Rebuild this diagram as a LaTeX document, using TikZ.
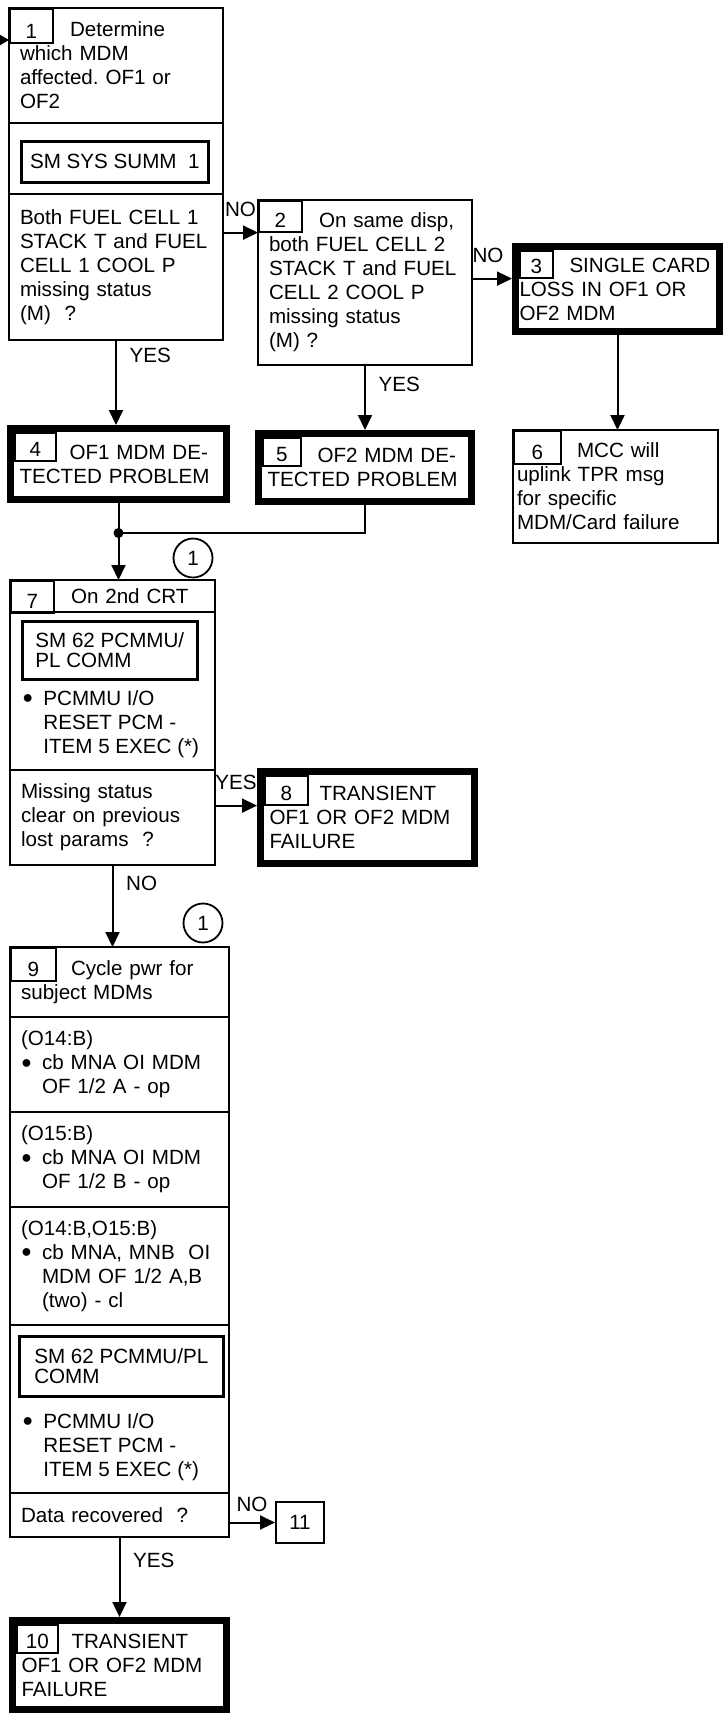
\documentclass[tikz,border=0pt]{standalone}
\usepackage{fontspec}
\setmainfont{Liberation Sans}
\usetikzlibrary{arrows.meta}

\newcommand{\fcfont}{\fontsize{10.3pt}{12pt}\selectfont\frenchspacing}
\newcommand{\dispfont}{\fontsize{10.3pt}{10pt}\selectfont}
\newcommand{\numgap}[1][25pt]{\hspace*{#1}}
\newcommand{\bulit}{\makebox[10.5pt][l]{\raisebox{0.8pt}{\fontsize{9pt}{9pt}\selectfont ●}}}
\newcommand{\bulind}{\hspace*{10.5pt}}

\begin{document}
\begin{tikzpicture}[
  x=0.5pt, y=-0.5pt,
  >={Triangle[length=7.5pt,width=7pt]},
  font=\fcfont,
  sect/.style={draw, line width=1pt, anchor=north west, align=left,
    inner xsep=5.5pt, inner ysep=0pt, outer sep=0pt, text width=#1},
  endbox/.style={sect=#1, line width=3.5pt, outer sep=1.75pt, inner xsep=4.5pt},
  numtab/.style={draw, line width=0.8pt, anchor=north west, inner sep=0pt,
    minimum width=21.5pt, text height=#1, text depth=2pt},
  numtab/.default=14pt,
  disp/.style={draw, line width=1.3pt, anchor=north west, align=left,
    inner sep=0pt, font=\dispfont, minimum width=#1},
  jump/.style={draw, line width=1pt, anchor=north west, minimum width=24pt,
    minimum height=20.5pt, inner sep=0pt},
  conn/.style={->, line width=1pt},
  refmark/.style={circle, draw, line width=0.9pt, minimum size=19.5pt, inner sep=0pt}
]
  \useasboundingbox (0,0) rectangle (725,1715);
  \coordinate (entry) at (0,40);
  \node[sect=96pt, minimum height=57.5pt] (b1a) at (9,8)
    {\numgap Determine\\which MDM\\affected. OF1 or\\OF2};
  \node[numtab=15pt] (t1) at (b1a.north west) {1};
  \node[sect=96pt, minimum height=35.5pt] (b1b) at (b1a.south west) {};
  \node[disp=93.5pt, minimum height=20.5pt] (d1) at (20,140) {SM SYS SUMM~~1};
  \node[sect=96pt, minimum height=73pt] (b1c) at (b1b.south west)
    {Both FUEL CELL 1\\STACK T and FUEL\\CELL 1 COOL P\\missing status\\(M)~~?};

  \node[sect=96pt, minimum height=82.5pt] (b2) at (258,200)
    {\numgap On same disp,\\both FUEL CELL 2\\STACK T and FUEL\\CELL 2 COOL P\\missing status\\(M) ?};
  \node[numtab=13.5pt] (t2) at (b2.north west) {2};

  \node[endbox=98pt, inner xsep=2pt, minimum height=42.5pt] (b3) at (512,243)
    {\numgap SINGLE CARD\\LOSS IN OF1 OR\\OF2 MDM};
  \node[numtab=11.5pt, minimum width=16.5pt] (t3) at ([shift={(3.5pt,-3.5pt)}]b3.north west) {3};

  \node[sect=98.5pt, inner xsep=2pt, minimum height=56.5pt] (b6) at (513,430)
    {\numgap[30pt]MCC will\\uplink TPR msg\\for specific\\MDM/Card failure};
  \node[numtab=14.5pt, minimum width=23.5pt] (t6) at (b6.north west) {6};

  \node[endbox=99pt, minimum height=35.5pt] (b4) at (7,425)
    {\numgap OF1 MDM DE-\\TECTED PROBLEM};
  \node[numtab=12pt, minimum width=20.5pt] (t4) at ([shift={(3.5pt,-3.5pt)}]b4.north west) {4};
  \node[endbox=97.5pt, minimum height=34pt] (b5) at (255,430)
    {\numgap OF2 MDM DE-\\TECTED PROBLEM};
  \node[numtab=12pt, minimum width=19pt] (t5) at ([shift={(3.5pt,-3.5pt)}]b5.north west) {5};

  \node[refmark] (r1) at (193,558) {1};
  \node[sect=91.5pt, minimum height=16pt] (b7a) at (10,580) {\numgap On 2nd CRT};
  \node[numtab] (t7) at (b7a.north west) {7};
  \node[sect=91.5pt, minimum height=79pt] (b7b) at (b7a.south west) {};
  \node[disp=87.5pt, minimum height=29pt] (d7) at (21,620) {SM 62 PCMMU/\\PL COMM};
  \node[anchor=north west, align=left, inner sep=0pt] (k7) at (22,690)
    {\bulit PCMMU I/O\\\bulind RESET PCM -\\\bulind ITEM 5 EXEC (*)};
  \node[sect=91.5pt, minimum height=47.5pt] (b7c) at (b7b.south west)
    {Missing status\\clear on previous\\lost params~~?};

  \node[endbox=98pt, minimum height=46pt] (b8) at (257,768)
    {\numgap TRANSIENT\\OF1 OR OF2 MDM\\FAILURE};
  \node[numtab=12.5pt, minimum width=21.5pt] (t8) at ([shift={(3.5pt,-3.5pt)}]b8.north west) {8};

  \node[refmark] (r2) at (203,923) {1};
  \node[sect=98.5pt, minimum height=35pt] (b9a) at (10,947)
    {\numgap Cycle pwr for\\subject MDMs};
  \node[numtab=14.5pt, minimum width=22.5pt] (t9) at (b9a.north west) {9};
  \node[sect=98.5pt, minimum height=47.5pt] (b9b) at (b9a.south west)
    {(O14:B)\\\bulit cb MNA OI MDM\\\bulind OF 1/2 A - op};
  \node[sect=98.5pt, minimum height=47.5pt] (b9c) at (b9b.south west)
    {(O15:B)\\\bulit cb MNA OI MDM\\\bulind OF 1/2 B - op};
  \node[sect=98.5pt, minimum height=59pt] (b9d) at (b9c.south west)
    {(O14:B,O15:B)\\\bulit cb MNA, MNB~~OI\\\bulind MDM OF 1/2 A,B\\\bulind (two) - cl};
  \node[sect=98.5pt, minimum height=84pt] (b9e) at (b9d.south west) {};
  \node[disp=102pt, minimum height=30pt] (d9) at (18,1335) {SM 62 PCMMU/PL\\COMM};
  \node[anchor=north west, align=left, inner sep=0pt] (k9) at (22,1413)
    {\bulit PCMMU I/O\\\bulind RESET PCM -\\\bulind ITEM 5 EXEC (*)};
  \node[sect=98.5pt, minimum height=22pt] (b9f) at (b9e.south west) {Data recovered~~?};
  \node[jump] (b11) at (275,1501) {11};

  \node[endbox=98pt, minimum height=44.5pt] (b10) at (9,1617)
    {\numgap TRANSIENT\\OF1 OR OF2 MDM\\FAILURE};
  \node[numtab=12pt, minimum width=20.5pt] (t10) at ([shift={(3.5pt,-3.5pt)}]b10.north west) {10};

  \coordinate (jn) at (b4.south |- 0,533);
  \coordinate (y8) at (b7c.east |- t8.south);
  \draw[line width=1pt] (b4.south) -- (jn);
  \draw[line width=1pt] (b5.south) |- (jn);
  \fill (jn) circle (2.5pt);

  \path[conn]
    (entry) edge[-{Triangle[length=4.5pt,width=5pt]}] (entry -| b1a.west)
    (b1c.south) edge node[pos=0.18, right=3pt] {YES} (b1c.south |- b4.north)
    (t2.south west -| b1c.east) edge node[above=4pt] {NO} (t2.south west)
    (b2.south) edge node[pos=0.3, right=3pt] {YES} (b2.south |- b5.north)
    (t3.south west -| b2.east) edge node[pos=0.4, above=4pt] {NO} (t3.south west -| b3.west)
    (b3.south) edge (b3.south |- b6.north)
    (jn) edge (jn |- b7a.north)
    (y8) edge node[above=4pt] {YES} (y8 -| b8.west)
    (b7c.south) edge node[pos=0.23, right=3pt] {NO} (b7c.south |- b9a.north)
    (b11.west -| b9f.east) edge node[above=1.5pt] {NO} (b11.west)
    (b9f.south) edge node[pos=0.29, right=3pt] {YES} (b9f.south |- b10.north);
\end{tikzpicture}
\end{document}
